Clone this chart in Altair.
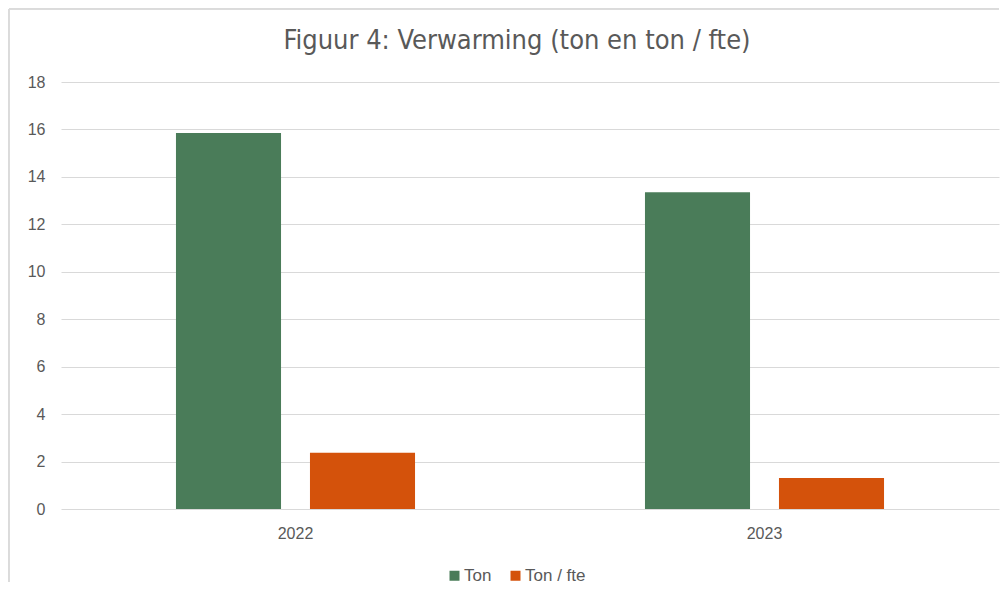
import altair as alt
import pandas as pd

years = ["2022", "2023"]
series = ["Ton", "Ton / fte"]
ton = [15.85, 13.35]
ton_per_fte = [2.37, 1.31]
colors = ["#4A7C59", "#D4520B"]
y_ticks = [0, 2, 4, 6, 8, 10, 12, 14, 16, 18]

rows = []
for i, yr in enumerate(years):
    rows.append({"jaar": yr, "reeks": series[0], "waarde": ton[i]})
    rows.append({"jaar": yr, "reeks": series[1], "waarde": ton_per_fte[i]})
df = pd.DataFrame(rows)

LABEL_FONT = "Liberation Sans"
TITLE_FONT = "Liberation Sans Narrow, DejaVu Sans Condensed, Roboto, sans-serif"
TXT = "#595959"

bars = alt.Chart(df).mark_bar(stroke=None).encode(
    x=alt.X("jaar:N", title=None, sort=years,
            scale=alt.Scale(paddingInner=0, paddingOuter=0),
            axis=alt.Axis(labelAngle=0, domain=False, ticks=False, labelPadding=16,
                          labelFont=LABEL_FONT, labelFontSize=16, labelColor=TXT)),
    xOffset=alt.XOffset("reeks:N", sort=series,
                        scale=alt.Scale(paddingInner=0.216, paddingOuter=0.858)),
    y=alt.Y("waarde:Q", title=None,
            scale=alt.Scale(domain=[0, 18], nice=False),
            axis=alt.Axis(values=y_ticks, domain=False, ticks=False, labelPadding=16,
                          labelFont=LABEL_FONT, labelFontSize=16, labelColor=TXT,
                          gridColor="#D9D9D9", gridWidth=1)),
    color=alt.Color("reeks:N", sort=series,
                    scale=alt.Scale(domain=series, range=colors),
                    legend=alt.Legend(title=None, orient="none", direction="horizontal",
                                      legendX=385, legendY=485,
                                      symbolType="square", symbolSize=100,
                                      symbolStrokeWidth=0,
                                      labelFont=LABEL_FONT, labelFontSize=17,
                                      labelColor=TXT, columnPadding=15,
                                      labelOffset=1)),
)

border_left = alt.Chart(df).mark_rule(color="#D9D9D9", strokeWidth=1).encode(
    x=alt.value(-52), y=alt.value(-73), y2=alt.value(500)
)
border_top = alt.Chart(df).mark_rule(color="#D9D9D9", strokeWidth=1).encode(
    x=alt.value(-52), x2=alt.value(938), y=alt.value(-73)
)

chart = alt.layer(border_left, border_top, bars).properties(
    width=938,
    height=427,
    title=alt.TitleParams("Figuur 4: Verwarming (ton en ton / fte)",
                          font=TITLE_FONT, fontSize=27, fontWeight="normal",
                          color=TXT, anchor="middle", dx=-13, offset=-46),
    padding=0,
).configure(background="white").configure_view(stroke=None)

chart.save("out.html", embed_options={"renderer": "svg", "actions": False})
